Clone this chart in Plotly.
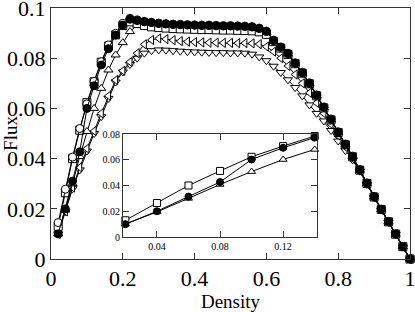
import plotly.graph_objects as go

# ---------------- data ----------------
density = [0.02, 0.04, 0.06, 0.08, 0.10, 0.12, 0.14, 0.16, 0.18, 0.20,
           0.22, 0.24, 0.26, 0.28, 0.30, 0.32, 0.34, 0.36, 0.38, 0.40,
           0.42, 0.44, 0.46, 0.48, 0.50, 0.52, 0.54, 0.56, 0.58, 0.60,
           0.62, 0.64, 0.66, 0.68, 0.70, 0.72, 0.74, 0.76, 0.78, 0.80,
           0.82, 0.84, 0.86, 0.88, 0.90, 0.92, 0.94, 0.96, 0.98, 1.00]

flux_filled_circle = [0.0100, 0.0200, 0.0310, 0.0427, 0.0600, 0.0690, 0.0773, 0.0838, 0.0892, 0.0932,
                      0.0955, 0.0950, 0.0945, 0.0942, 0.0938, 0.0936, 0.0934, 0.0933, 0.0932, 0.0931,
                      0.0930, 0.0930, 0.0929, 0.0928, 0.0928, 0.0927, 0.0926, 0.0924, 0.0918, 0.0906,
                      0.0870, 0.0843, 0.0818, 0.0780, 0.0742, 0.0700, 0.0652, 0.0604, 0.0556, 0.0505,
                      0.0456, 0.0408, 0.0355, 0.0302, 0.0248, 0.0198, 0.0149, 0.0100, 0.0049, 0.0000]

flux_open_circle = [0.0145, 0.0278, 0.0406, 0.0520, 0.0618, 0.0708, 0.0786, 0.0853, 0.0899, 0.0939,
                    0.0959, 0.0953, 0.0947, 0.0943, 0.0940, 0.0938, 0.0936, 0.0935, 0.0934, 0.0933,
                    0.0932, 0.0932, 0.0931, 0.0930, 0.0930, 0.0929, 0.0928, 0.0926, 0.0920, 0.0908,
                    0.0872, 0.0845, 0.0820, 0.0782, 0.0744, 0.0702, 0.0654, 0.0606, 0.0558, 0.0507,
                    0.0458, 0.0410, 0.0356, 0.0303, 0.0249, 0.0199, 0.0150, 0.0100, 0.0050, 0.0000]

flux_square = [0.0130, 0.0264, 0.0400, 0.0513, 0.0623, 0.0706, 0.0784, 0.0848, 0.0893, 0.0930,
               0.0945, 0.0938, 0.0930, 0.0925, 0.0922, 0.0920, 0.0918, 0.0917, 0.0916, 0.0915,
               0.0914, 0.0914, 0.0913, 0.0912, 0.0912, 0.0911, 0.0910, 0.0909, 0.0905, 0.0895,
               0.0866, 0.0840, 0.0815, 0.0778, 0.0740, 0.0698, 0.0650, 0.0602, 0.0554, 0.0504,
               0.0455, 0.0407, 0.0354, 0.0301, 0.0247, 0.0197, 0.0148, 0.0099, 0.0049, 0.0000]

flux_triangle_up = [0.0100, 0.0195, 0.0300, 0.0408, 0.0508, 0.0600, 0.0680, 0.0753, 0.0813, 0.0862,
                    0.0906, 0.0932, 0.0936, 0.0934, 0.0932, 0.0930, 0.0929, 0.0928, 0.0927, 0.0926,
                    0.0925, 0.0925, 0.0924, 0.0924, 0.0923, 0.0922, 0.0921, 0.0919, 0.0913, 0.0902,
                    0.0867, 0.0841, 0.0816, 0.0778, 0.0740, 0.0698, 0.0650, 0.0602, 0.0554, 0.0504,
                    0.0455, 0.0407, 0.0354, 0.0301, 0.0247, 0.0197, 0.0148, 0.0099, 0.0049, 0.0000]

flux_triangle_left = [0.0100, 0.0190, 0.0285, 0.0365, 0.0440, 0.0510, 0.0580, 0.0650, 0.0713, 0.0750,
                      0.0785, 0.0820, 0.0855, 0.0873, 0.0879, 0.0876, 0.0872, 0.0868, 0.0866, 0.0864,
                      0.0863, 0.0862, 0.0862, 0.0861, 0.0861, 0.0860, 0.0860, 0.0859, 0.0856, 0.0846,
                      0.0826, 0.0800, 0.0769, 0.0735, 0.0700, 0.0662, 0.0622, 0.0580, 0.0537, 0.0492,
                      0.0446, 0.0400, 0.0352, 0.0299, 0.0246, 0.0196, 0.0147, 0.0099, 0.0049, 0.0000]

flux_triangle_down = [0.0100, 0.0188, 0.0280, 0.0355, 0.0430, 0.0500, 0.0567, 0.0640, 0.0705, 0.0745,
                      0.0775, 0.0800, 0.0820, 0.0830, 0.0833, 0.0832, 0.0830, 0.0828, 0.0826, 0.0825,
                      0.0824, 0.0823, 0.0822, 0.0822, 0.0821, 0.0821, 0.0820, 0.0816, 0.0805, 0.0790,
                      0.0768, 0.0743, 0.0714, 0.0683, 0.0650, 0.0614, 0.0580, 0.0550, 0.0512, 0.0470,
                      0.0432, 0.0395, 0.0350, 0.0297, 0.0245, 0.0195, 0.0146, 0.0098, 0.0048, 0.0000]

inset_density = [0.02, 0.04, 0.06, 0.08, 0.10, 0.12, 0.14]
inset_square = [0.0130, 0.0264, 0.0400, 0.0513, 0.0623, 0.0706, 0.0784]
inset_filled = [0.0100, 0.0200, 0.0314, 0.0427, 0.0602, 0.0693, 0.0772]
inset_triangle = [0.0100, 0.0195, 0.0300, 0.0408, 0.0508, 0.0602, 0.0680]

main_xticks = [0, 0.2, 0.4, 0.6, 0.8, 1.0]
main_xtick_text = ["0", "0.2", "0.4", "0.6", "0.8", "1"]
main_yticks = [0, 0.02, 0.04, 0.06, 0.08, 0.1]
main_ytick_text = ["0", "0.02", "0.04", "0.06", "0.08", "0.1"]
inset_xticks = [0.04, 0.08, 0.12]
inset_xtick_text = ["0.04", "0.08", "0.12"]
inset_yticks = [0, 0.02, 0.04, 0.06, 0.08]
inset_ytick_text = ["0", "0.02", "0.04", "0.06", "0.08"]

# ---------------- figure ----------------
FONT = "Liberation Serif"
fig = go.Figure()


def add(x, y, symbol, fill, xa="x", ya="y", size=8):
    fig.add_trace(go.Scatter(
        x=x, y=y, mode="lines+markers", xaxis=xa, yaxis=ya,
        line=dict(color="black", width=1),
        marker=dict(symbol=symbol, size=size, color=fill,
                    line=dict(color="black", width=1)),
        cliponaxis=False, showlegend=False, hoverinfo="skip"))


add(density, flux_triangle_down, "triangle-down", "white")
add(density, flux_triangle_left, "triangle-left", "white")
add(density, flux_triangle_up, "triangle-up", "white")
add(density, flux_square, "square", "white")
add(density, flux_open_circle, "circle", "white")
add(density, flux_filled_circle, "circle", "black")

# inset
add(inset_density, inset_triangle, "triangle-up", "white", "x2", "y2", 7)
add(inset_density, inset_square, "square", "white", "x2", "y2", 7)
add(inset_density, inset_filled, "circle", "black", "x2", "y2", 7)

axis_common = dict(showline=True, linecolor="#333", linewidth=1, mirror="ticks",
                   ticks="inside", tickcolor="#333", showgrid=False, zeroline=False,
                   automargin=False, ticklabeloverflow="allow")

fig.update_layout(
    width=415, height=312,
    margin=dict(l=51, r=5, t=8, b=53),
    paper_bgcolor="white", plot_bgcolor="white",
    font=dict(family=FONT, color="black"),
    xaxis=dict(domain=[0, 1], range=[0, 1], tickvals=main_xticks, ticktext=main_xtick_text,
               ticklen=6, tickfont=dict(size=22, family=FONT),
               title=dict(text="Density", font=dict(size=19, family=FONT), standoff=6),
               **axis_common),
    yaxis=dict(domain=[0, 1], range=[0, 0.1], tickvals=main_yticks, ticktext=main_ytick_text,
               ticklen=6, tickfont=dict(size=22, family=FONT),
               title=dict(text="Flux", font=dict(size=19, family=FONT), standoff=0),
               **axis_common),
    xaxis2=dict(domain=[0.2006, 0.741], range=[0.0185, 0.1415], anchor="y2",
                tickvals=inset_xticks, ticktext=inset_xtick_text,
                ticklen=6, tickfont=dict(size=10, family=FONT), **axis_common),
    yaxis2=dict(domain=[0.0876, 0.498], range=[0, 0.08], anchor="x2",
                tickvals=inset_yticks, ticktext=inset_ytick_text,
                ticklen=6, tickfont=dict(size=10, family=FONT), **axis_common),
)

fig.write_html("out.html", config={"displayModeBar": False},
               post_script="document.body.style.margin='0';")
